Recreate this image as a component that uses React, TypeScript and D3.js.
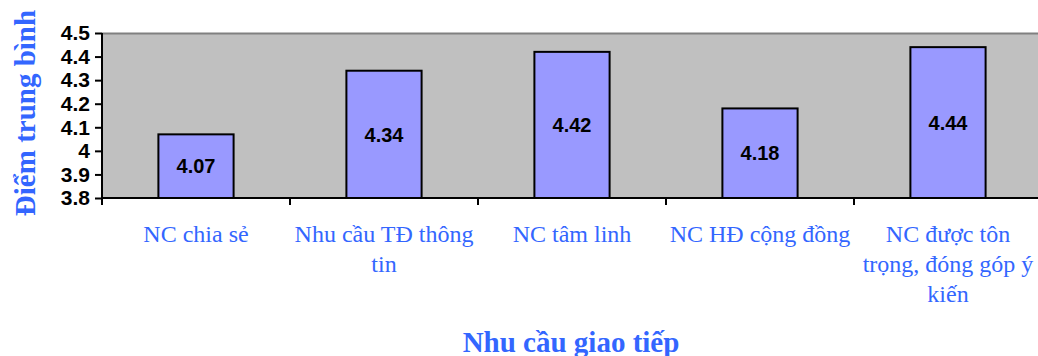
import React, { useEffect, useRef } from 'react';
import * as d3 from 'd3';

const categories = [
  'NC chia sẻ',
  'Nhu cầu TĐ thông\ntin',
  'NC tâm linh',
  'NC HĐ cộng đồng',
  'NC được tôn\ntrọng, đóng góp ý\nkiến',
];
const values = [4.07, 4.34, 4.42, 4.18, 4.44];
const yTicks = [3.8, 3.9, 4, 4.1, 4.2, 4.3, 4.4, 4.5];
const yTitle = 'Điểm trung bình';
const xTitle = 'Nhu cầu giao tiếp';

const App: React.FC = () => {
  const svgRef = useRef<SVGSVGElement>(null);

  useEffect(() => {
    if (!svgRef.current) return;
    const width = 1038;
    const height = 356;
    const left = 102;
    const right = 1042;
    const top = 33;
    const bottom = 198;
    const blue = '#3366FF';

    const svg = d3.select(svgRef.current);
    svg.selectAll('*').remove();

    const x = d3.scaleBand<string>().domain(categories).range([left, right]).padding(0);
    const y = d3.scaleLinear().domain([3.8, 4.5]).range([bottom, top]);

    // plot area
    svg.append('rect')
      .attr('x', left).attr('y', top)
      .attr('width', right - left).attr('height', bottom - top)
      .attr('fill', '#C0C0C0');
    svg.append('line')
      .attr('x1', left).attr('x2', right)
      .attr('y1', top + 0.5).attr('y2', top + 0.5)
      .attr('stroke', '#808080').attr('stroke-width', 2);

    // bars
    const bw = x.bandwidth() * 0.4;
    const bars = svg.append('g');
    bars.selectAll('rect')
      .data(values)
      .enter().append('rect')
      .attr('x', (d, i) => (x(categories[i]) as number) + x.bandwidth() / 2 - bw / 2)
      .attr('y', d => y(d))
      .attr('width', bw)
      .attr('height', d => bottom - y(d))
      .attr('fill', '#9999FF')
      .attr('stroke', '#000')
      .attr('stroke-width', 2);

    bars.selectAll('text')
      .data(values)
      .enter().append('text')
      .attr('x', (d, i) => (x(categories[i]) as number) + x.bandwidth() / 2)
      .attr('y', d => (y(d) + bottom) / 2)
      .attr('dy', '0.36em')
      .attr('text-anchor', 'middle')
      .style('font-family', 'Liberation Sans, Arial, sans-serif')
      .style('font-weight', 'bold')
      .style('font-size', '20px')
      .text(d => d.toFixed(2));

    // y axis
    const yAxis = d3.axisLeft(y).tickValues(yTicks).tickSize(7).tickPadding(5)
      .tickFormat(d => String(d));
    const gy = svg.append('g').attr('transform', `translate(${left},0)`).call(yAxis);
    gy.select('.domain').attr('stroke', '#000').attr('stroke-width', 2).attr('d', `M0,${top}V${bottom}`);
    gy.selectAll('.tick line').attr('stroke', '#000').attr('stroke-width', 2);
    gy.selectAll('.tick text')
      .style('font-family', 'Liberation Sans, Arial, sans-serif')
      .style('font-weight', 'bold')
      .style('font-size', '21px')
      .attr('fill', '#000');

    // x axis
    const bounds = categories.map(c => x(c) as number).concat([right]);
    const gx = svg.append('g');
    gx.append('line')
      .attr('x1', left - 1).attr('x2', right)
      .attr('y1', bottom).attr('y2', bottom)
      .attr('stroke', '#000').attr('stroke-width', 2);
    gx.selectAll('line.tick')
      .data(bounds)
      .enter().append('line')
      .attr('class', 'tick')
      .attr('x1', d => d).attr('x2', d => d)
      .attr('y1', bottom).attr('y2', bottom + 7)
      .attr('stroke', '#000').attr('stroke-width', 2);

    const labels = gx.selectAll('text.cat')
      .data(categories)
      .enter().append('text')
      .attr('class', 'cat')
      .attr('text-anchor', 'middle')
      .attr('fill', blue)
      .style('font-family', 'Liberation Serif, Times New Roman, serif')
      .style('font-size', '24px');
    labels.each(function (c) {
      const t = d3.select(this);
      c.split('\n').forEach((line, j) => {
        t.append('tspan')
          .attr('x', (x(c) as number) + x.bandwidth() / 2)
          .attr('y', 242 + j * 30)
          .text(line);
      });
    });

    // titles
    svg.append('text')
      .attr('x', (left + right) / 2 - 1)
      .attr('y', 352)
      .attr('text-anchor', 'middle')
      .attr('fill', blue)
      .style('font-family', 'Liberation Serif, Times New Roman, serif')
      .style('font-weight', 'bold')
      .style('font-size', '29px')
      .text(xTitle);

    svg.append('text')
      .attr('transform', `translate(35,${113}) rotate(-90)`)
      .attr('text-anchor', 'middle')
      .attr('fill', blue)
      .style('font-family', 'Liberation Serif, Times New Roman, serif')
      .style('font-weight', 'bold')
      .style('font-size', '29px')
      .text(yTitle);

    svg.attr('width', width).attr('height', height);
  }, []);

  return (
    <svg ref={svgRef} width={1038} height={356}
      style={{ position: 'absolute', left: 0, top: 0, background: '#fff' }}></svg>
  );
};

export default App;
